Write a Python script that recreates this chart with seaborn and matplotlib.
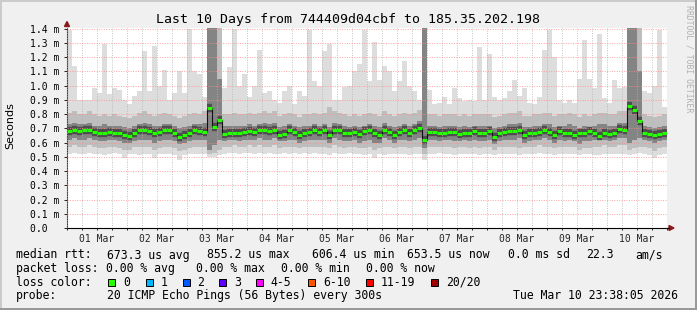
import numpy as np
import pandas as pd
import matplotlib
matplotlib.use("Agg")
import matplotlib.pyplot as plt
from matplotlib.patches import Rectangle, Polygon
from matplotlib.ticker import MultipleLocator, FixedLocator, FuncFormatter
import seaborn as sns

# smokeping style data: 10 days in 2 h bins, round trip time in ms
start = "2026-03-01 00:00"

med = [
    0.680, 0.690, 0.680, 0.685, 0.690, 0.675, 0.665, 0.670, 0.675, 0.670, 0.665, 0.655,
    0.645, 0.670, 0.685, 0.690, 0.680, 0.670, 0.675, 0.690, 0.685, 0.665, 0.640, 0.655,
    0.670, 0.685, 0.680, 0.672, 0.845, 0.710, 0.760, 0.660, 0.665, 0.670, 0.665, 0.672,
    0.680, 0.672, 0.685, 0.690, 0.680, 0.690, 0.655, 0.660, 0.685, 0.675, 0.655, 0.670,
    0.675, 0.685, 0.675, 0.685, 0.650, 0.690, 0.685, 0.670, 0.665, 0.675, 0.660, 0.680,
    0.685, 0.665, 0.655, 0.690, 0.675, 0.650, 0.675, 0.685, 0.670, 0.685, 0.705, 0.615,
    0.675, 0.672, 0.665, 0.670, 0.672, 0.672, 0.660, 0.670, 0.670, 0.680, 0.670, 0.665,
    0.680, 0.640, 0.665, 0.675, 0.680, 0.680, 0.690, 0.655, 0.665, 0.670, 0.675, 0.685,
    0.675, 0.650, 0.680, 0.670, 0.670, 0.655, 0.665, 0.670, 0.680, 0.670, 0.645, 0.665,
    0.660, 0.670, 0.695, 0.690, 0.855, 0.830, 0.750, 0.670, 0.660, 0.650, 0.660, 0.670,
]
rtt_min = [
    0.52, 0.53, 0.52, 0.52, 0.53, 0.52, 0.52, 0.51, 0.52, 0.53, 0.52, 0.49,
    0.52, 0.52, 0.51, 0.52, 0.52, 0.49, 0.52, 0.52, 0.52, 0.51, 0.48, 0.51,
    0.52, 0.52, 0.52, 0.52, 0.50, 0.50, 0.51, 0.52, 0.53, 0.53, 0.52, 0.53,
    0.53, 0.52, 0.53, 0.52, 0.53, 0.52, 0.52, 0.53, 0.52, 0.53, 0.52, 0.53,
    0.52, 0.53, 0.52, 0.52, 0.51, 0.53, 0.52, 0.52, 0.53, 0.52, 0.52, 0.51,
    0.52, 0.49, 0.52, 0.51, 0.52, 0.52, 0.52, 0.52, 0.51, 0.52, 0.52, 0.48,
    0.52, 0.52, 0.53, 0.52, 0.52, 0.51, 0.52, 0.52, 0.52, 0.52, 0.51, 0.52,
    0.52, 0.51, 0.52, 0.52, 0.52, 0.52, 0.51, 0.52, 0.52, 0.52, 0.53, 0.52,
    0.52, 0.51, 0.52, 0.52, 0.52, 0.52, 0.51, 0.52, 0.52, 0.51, 0.51, 0.52,
    0.52, 0.52, 0.52, 0.52, 0.51, 0.52, 0.53, 0.52, 0.51, 0.49, 0.51, 0.52,
]
rtt_p10 = [
    0.57, 0.58, 0.57, 0.57, 0.58, 0.57, 0.56, 0.56, 0.57, 0.57, 0.56, 0.55,
    0.55, 0.57, 0.57, 0.57, 0.57, 0.55, 0.56, 0.57, 0.57, 0.56, 0.54, 0.55,
    0.56, 0.57, 0.57, 0.57, 0.52, 0.53, 0.55, 0.57, 0.57, 0.58, 0.57, 0.57,
    0.58, 0.57, 0.58, 0.57, 0.57, 0.58, 0.56, 0.57, 0.57, 0.57, 0.56, 0.57,
    0.57, 0.57, 0.57, 0.57, 0.56, 0.58, 0.57, 0.56, 0.57, 0.57, 0.56, 0.56,
    0.57, 0.55, 0.56, 0.57, 0.57, 0.56, 0.57, 0.57, 0.56, 0.57, 0.57, 0.52,
    0.57, 0.57, 0.57, 0.57, 0.57, 0.56, 0.57, 0.57, 0.56, 0.57, 0.56, 0.57,
    0.57, 0.55, 0.57, 0.57, 0.57, 0.57, 0.56, 0.57, 0.57, 0.57, 0.58, 0.57,
    0.57, 0.56, 0.57, 0.57, 0.57, 0.57, 0.55, 0.56, 0.56, 0.57, 0.57, 0.58,
    0.57, 0.57, 0.58, 0.58, 0.55, 0.56, 0.57, 0.57, 0.56, 0.54, 0.56, 0.57,
]
rtt_p25 = [
    0.62, 0.63, 0.62, 0.62, 0.63, 0.62, 0.61, 0.61, 0.62, 0.62, 0.61, 0.60,
    0.60, 0.61, 0.62, 0.62, 0.62, 0.60, 0.61, 0.62, 0.62, 0.61, 0.59, 0.60,
    0.61, 0.62, 0.62, 0.62, 0.55, 0.58, 0.62, 0.61, 0.62, 0.62, 0.61, 0.62,
    0.62, 0.62, 0.63, 0.62, 0.62, 0.63, 0.61, 0.61, 0.62, 0.62, 0.60, 0.61,
    0.62, 0.62, 0.62, 0.62, 0.60, 0.63, 0.62, 0.61, 0.61, 0.62, 0.60, 0.61,
    0.62, 0.60, 0.60, 0.63, 0.62, 0.60, 0.62, 0.62, 0.61, 0.62, 0.63, 0.56,
    0.62, 0.62, 0.61, 0.62, 0.62, 0.61, 0.61, 0.62, 0.61, 0.62, 0.61, 0.61,
    0.62, 0.59, 0.61, 0.62, 0.62, 0.62, 0.63, 0.60, 0.61, 0.62, 0.62, 0.63,
    0.62, 0.60, 0.62, 0.61, 0.62, 0.61, 0.59, 0.61, 0.61, 0.62, 0.62, 0.62,
    0.61, 0.62, 0.63, 0.63, 0.60, 0.62, 0.63, 0.62, 0.61, 0.60, 0.61, 0.62,
]
rtt_p75 = [
    0.73, 0.74, 0.73, 0.73, 0.74, 0.72, 0.72, 0.73, 0.72, 0.72, 0.72, 0.71,
    0.70, 0.72, 0.73, 0.74, 0.73, 0.72, 0.72, 0.73, 0.73, 0.72, 0.70, 0.71,
    0.72, 0.73, 0.73, 0.74, 1.45, 1.45, 1.05, 0.72, 0.72, 0.72, 0.72, 0.72,
    0.73, 0.72, 0.73, 0.74, 0.73, 0.74, 0.71, 0.72, 0.73, 0.72, 0.71, 0.72,
    0.72, 0.73, 0.72, 0.73, 0.71, 0.74, 0.73, 0.72, 0.71, 0.72, 0.71, 0.72,
    0.73, 0.72, 0.71, 0.74, 0.72, 0.71, 0.72, 0.73, 0.72, 0.73, 0.75, 1.45,
    0.72, 0.72, 0.71, 0.72, 0.72, 0.72, 0.71, 0.72, 0.71, 0.72, 0.72, 0.72,
    0.72, 0.70, 0.71, 0.72, 0.73, 0.73, 0.74, 0.71, 0.71, 0.72, 0.72, 0.73,
    0.73, 0.71, 0.72, 0.72, 0.73, 0.72, 0.70, 0.72, 0.71, 0.72, 0.73, 0.73,
    0.72, 0.72, 0.74, 0.74, 1.45, 1.45, 1.10, 0.72, 0.71, 0.70, 0.71, 0.72,
]
rtt_p90 = [
    0.81, 0.82, 0.80, 0.80, 0.82, 0.80, 0.79, 0.80, 0.79, 0.80, 0.79, 0.78,
    0.77, 0.79, 0.81, 0.82, 0.80, 0.79, 0.80, 0.81, 0.80, 0.79, 0.77, 0.79,
    0.80, 0.81, 0.80, 0.82, 1.45, 1.45, 1.45, 0.80, 0.80, 0.81, 0.80, 0.80,
    0.81, 0.80, 0.81, 0.82, 0.81, 0.82, 0.79, 0.80, 0.81, 0.80, 0.78, 0.80,
    0.80, 0.81, 0.80, 0.81, 0.85, 0.82, 0.81, 0.80, 0.79, 0.80, 0.79, 0.80,
    0.81, 0.80, 0.79, 0.82, 0.80, 0.79, 0.80, 0.81, 0.80, 0.81, 0.83, 1.45,
    0.80, 0.80, 0.79, 0.80, 0.80, 0.80, 0.79, 0.80, 0.79, 0.80, 0.80, 0.80,
    0.80, 0.78, 0.79, 0.80, 0.81, 0.81, 0.82, 0.79, 0.79, 0.80, 0.80, 0.81,
    0.81, 0.79, 0.80, 0.80, 0.81, 0.80, 0.78, 0.80, 0.79, 0.80, 0.81, 0.81,
    0.80, 0.80, 0.82, 0.82, 1.45, 1.45, 1.45, 0.80, 0.79, 0.78, 0.79, 0.80,
]
rtt_max = [
    1.39, 1.14, 0.90, 0.90, 0.90, 0.98, 0.95, 1.29, 0.94, 0.98, 0.97, 0.90,
    0.87, 0.93, 0.96, 1.24, 0.96, 1.28, 1.00, 1.11, 0.90, 0.95, 1.10, 0.95,
    1.40, 1.10, 1.08, 0.92, 1.45, 1.45, 1.45, 0.98, 1.13, 1.40, 1.00, 1.08,
    0.92, 1.00, 1.25, 0.95, 0.96, 0.90, 0.88, 0.96, 1.00, 0.87, 0.96, 0.93,
    1.39, 1.03, 1.00, 1.24, 1.29, 0.90, 0.90, 0.99, 1.00, 1.10, 1.15, 1.39,
    1.03, 1.31, 1.04, 1.14, 1.10, 0.96, 1.03, 1.17, 1.00, 0.96, 0.90, 1.45,
    0.97, 0.87, 0.88, 0.92, 0.87, 0.98, 0.91, 0.89, 0.90, 0.89, 1.27, 0.90,
    1.22, 0.92, 0.90, 0.91, 0.96, 1.04, 0.93, 0.98, 0.88, 0.87, 0.92, 1.25,
    1.39, 1.20, 0.90, 0.88, 0.90, 0.88, 1.05, 1.32, 1.05, 0.98, 1.36, 0.91,
    0.88, 1.04, 0.98, 0.99, 1.45, 1.45, 1.45, 0.96, 0.95, 1.00, 1.39, 0.85,
]

day_labels = ["01 Mar", "02 Mar", "03 Mar", "04 Mar", "05 Mar",
              "06 Mar", "07 Mar", "08 Mar", "09 Mar", "10 Mar"]
ytick_vals = [0.0, 0.1, 0.2, 0.3, 0.4, 0.5, 0.6, 0.7, 0.8, 0.9, 1.0, 1.1, 1.2, 1.3, 1.4]
ytick_labels = ["0.0  ", "0.1 m", "0.2 m", "0.3 m", "0.4 m", "0.5 m", "0.6 m", "0.7 m",
                "0.8 m", "0.9 m", "1.0 m", "1.1 m", "1.2 m", "1.3 m", "1.4 m"]

title = "Last 10 Days from 744409d04cbf to 185.35.202.198"
row_rtt = [("median rtt:", 16), ("673.3 us avg", 107.3), ("855.2 us max", 207.3),
           ("606.4 us min", 312.3), ("653.5 us now", 407.3), ("0.0 ms sd", 507.7),
           ("22.3", 586), ("am/s", 635.7)]
row_loss = [("packet loss:", 16), ("0.00 % avg", 106.5), ("0.00 % max", 196),
            ("0.00 % min", 281), ("0.00 % now", 366)]
row_probe = [("probe:", 16), ("20 ICMP Echo Pings (56 Bytes) every 300s", 107.3),
             ("Tue Mar 10 23:38:05 2026", 513.3)]
loss_labels = ["0", "1", "2", "3", "4-5", "6-10", "11-19", "20/20"]
loss_colors = ["#26ff00", "#00b8ff", "#0059ff", "#5e00ff", "#ff00ff", "#ff5500", "#ff0000", "#a10000"]
loss_box_x = [108, 146, 183, 219, 256, 307.5, 366, 431]
loss_text_x = [123, 160.7, 197, 234, 270.7, 323, 380.7, 445.7]

# ---- figure ----
sns.set_theme(style="white")
plt.rcParams["font.family"] = ["DejaVu Sans Mono", "DejaVu Sans"]

W, H = 697, 310
fig = plt.figure(figsize=(W / 100, H / 100), dpi=100, facecolor="#f0f0f0")


def fx(px):
    return px / W


def fy(py):
    return 1 - py / H


ax = fig.add_axes([fx(67), fy(228), 600 / W, 200 / H])
ax.set_facecolor("white")

t = pd.date_range(start, periods=len(med) + 1, freq="2h")
xh = ((t - t[0]) / pd.Timedelta("1h")).to_numpy()


def ext(a):
    return np.append(a, a[-1])


# smoke, from the outside in
ax.fill_between(xh, ext(rtt_min), ext(rtt_max), step="post", color="#dddddd", lw=0, zorder=1)
ax.fill_between(xh, ext(rtt_p10), ext(rtt_p90), step="post", color="#bebebe", lw=0, zorder=1)
ax.fill_between(xh, ext(rtt_p25), ext(rtt_p75), step="post", color="#848484", lw=0, zorder=1)
# dense core around the median, then the thin connectors and the green median
ax.hlines(med, xh[:-1], xh[1:], color="#4e4e4e", lw=6, zorder=2)
sns.lineplot(x=xh, y=ext(med), drawstyle="steps-post", color="#111111", lw=0.8, ax=ax, zorder=3)
ax.hlines(med, xh[:-1], xh[1:], color=loss_colors[0], lw=2.2, zorder=4)

ax.set_xlim(0, 240)
ax.set_ylim(0, 1.405)

# grid
ax.xaxis.set_major_locator(MultipleLocator(24))
ax.xaxis.set_minor_locator(MultipleLocator(6))
ax.yaxis.set_major_locator(FixedLocator(ytick_vals))
ax.set_yticklabels(ytick_labels)
ax.xaxis.set_major_formatter(FuncFormatter(lambda v, p: ""))
ax.xaxis.set_minor_formatter(FuncFormatter(
    lambda v, p: day_labels[int(v // 24)] if (v % 24 == 12 and v < 240) else ""))
ax.set_axisbelow(False)
ax.grid(which="major", axis="both", color="#ff8c8c", ls=(0, (1, 1.5)), lw=0.7, alpha=0.8)
ax.grid(which="minor", axis="x", color="#b4b4b4", ls=(0, (1, 1.5)), lw=0.7, alpha=0.8)

ax.tick_params(axis="y", which="major", direction="out", length=2.5, width=0.7,
               color="#222222", labelsize=7, pad=3, left=True)
ax.tick_params(axis="x", which="both", direction="out", length=1.5, width=0.7,
               color="#222222", labelsize=7, pad=3, bottom=True)
for lab in ax.get_yticklabels():
    lab.set_color("black")
for side in ("top", "right"):
    ax.spines[side].set_visible(False)
ax.spines["left"].set_color("#6b2a2a")
ax.spines["bottom"].set_color("#000000")
ax.spines["left"].set_linewidth(0.8)
ax.spines["bottom"].set_linewidth(0.8)
ax.set_xlabel("")
ax.set_ylabel("")

# axis arrows
arrow_c = "#8b1a1a"
fig.add_artist(Polygon([[fx(64.5), fy(26.5)], [fx(69.5), fy(26.5)], [fx(67), fy(21.5)]],
                       closed=True, color=arrow_c, transform=fig.transFigure))
fig.add_artist(Polygon([[fx(669), fy(225.5)], [fx(669), fy(230.5)], [fx(674), fy(228)]],
                       closed=True, color=arrow_c, transform=fig.transFigure))
fig.add_artist(plt.Line2D([fx(667), fx(669)], [fy(228), fy(228)], color="black", lw=0.8,
                          transform=fig.transFigure))

# texts
fig.text(fx(347.5), fy(19), title, ha="center", va="center", fontsize=9.5, color="black")
fig.text(fx(10), fy(126), "Seconds", rotation=90, ha="center", va="center",
         fontsize=8, family="DejaVu Sans", color="black")
fig.text(fx(689), fy(5), "RRDTOOL / TOBI OETIKER", rotation=270, ha="center", va="top",
         fontsize=5.9, color="#b0b0b0")

fs = 8.3
for txt, px in row_rtt:
    fig.text(fx(px), fy(255), txt, va="center", fontsize=fs, color="black")
for txt, px in row_loss:
    fig.text(fx(px), fy(268.5), txt, va="center", fontsize=fs, color="black")
fig.text(fx(16), fy(282), "loss color:", va="center", fontsize=fs, color="black")
for lab, col, bx, tx in zip(loss_labels, loss_colors, loss_box_x, loss_text_x):
    fig.add_artist(Rectangle((fx(bx), fy(285.5)), 7 / W, 7 / H, facecolor=col,
                             edgecolor="black", lw=0.7, transform=fig.transFigure))
    fig.text(fx(tx), fy(282), lab, va="center", fontsize=fs, color="black")
for txt, px in row_probe:
    fig.text(fx(px), fy(295.5), txt, va="center", fontsize=fs, color="black")

# shaded frame
fig.add_artist(Rectangle((0, 1 - 2 / H), 1, 2 / H, color="#cbcbcb", lw=0, transform=fig.transFigure))
fig.add_artist(Rectangle((0, 0), 2 / W, 1, color="#cbcbcb", lw=0, transform=fig.transFigure))
fig.add_artist(Rectangle((0, 0), 1, 2 / H, color="#999999", lw=0, transform=fig.transFigure))
fig.add_artist(Rectangle((1 - 2 / W, 0), 2 / W, 1, color="#999999", lw=0, transform=fig.transFigure))

fig.savefig("out.png", dpi=100, facecolor=fig.get_facecolor())
